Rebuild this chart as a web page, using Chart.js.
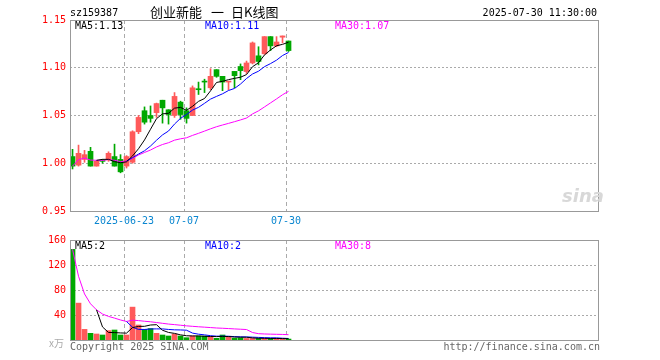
<!DOCTYPE html>
<html>
<head>
<meta charset="utf-8">
<script src="https://cdn.jsdelivr.net/npm/chart.js@4.4.1/dist/chart.umd.min.js"></script>
<style>
  body { margin: 0; background: #fff; width: 660px; height: 360px; position: relative; overflow: hidden;
         font-family: "DejaVu Sans Mono", monospace; font-size: 10px; }
  canvas { position: absolute; left: 0; }
  .t { position: absolute; white-space: pre; line-height: 12px; }
  .cj { font: 13px "Noto Sans CJK SC"; line-height: 14px; }
</style>
</head>
<body>
<canvas id="kline" width="660" height="236" style="top:0"></canvas>
<canvas id="vol" width="660" height="130" style="top:230px"></canvas>

<div class="t" style="left:70px;top:7px">sz159387</div>
<div class="t cj" style="left:150px;top:5px">创业新能<span style="margin-left:9px">一</span><span style="margin-left:7px">日K线图</span></div>
<div class="t" style="right:63px;top:7px">2025-07-30 11:30:00</div>
<div class="t" style="left:75px;top:20px">MA5:1.13</div>
<div class="t" style="left:205px;top:20px;color:#0000ff">MA10:1.11</div>
<div class="t" style="left:335px;top:20px;color:#ff00ff">MA30:1.07</div>
<div class="t" style="left:75px;top:240px">MA5:2</div>
<div class="t" style="left:205px;top:240px;color:#0000ff">MA10:2</div>
<div class="t" style="left:335px;top:240px;color:#ff00ff">MA30:8</div>
<div class="t" style="left:49px;top:337px;color:#aaa;font-family:'Noto Sans CJK SC'">x万</div>
<div class="t" style="left:70px;top:341px;color:#666">Copyright 2025 SINA.COM</div>
<div class="t" style="right:60px;top:341px;color:#666">http://finance.sina.com.cn</div>
<div class="t" style="left:562px;top:186px;color:#d8d8d8;font:italic bold 18px 'DejaVu Sans';line-height:20px">sina</div>

<script>
// 交易日 (2025-06-10 .. 2025-07-30)
const dates = ['06-10','06-11','06-12','06-13','06-16','06-17','06-18','06-19','06-20','06-23',
  '06-24','06-25','06-26','06-27','06-30','07-01','07-02','07-03','07-04','07-07',
  '07-08','07-09','07-10','07-11','07-14','07-15','07-16','07-17','07-18','07-21',
  '07-22','07-23','07-24','07-25','07-28','07-29','07-30'];

const opens  = [1.007,0.998,1.004,1.0125,0.997,1.003,1.0035,1.007,1.004,0.997,
  1.001,1.033,1.055,1.050,1.053,1.066,1.056,1.050,1.064,1.055,
  1.050,1.078,1.0855,1.079,1.098,1.091,1.085,1.0962,1.1013,1.096,
  1.105,1.1125,1.1146,1.1326,1.1229,1.132,1.128];
const closes = [0.997,1.0104,1.009,0.997,1.002,1.002,1.0104,0.997,0.991,1.007,
  1.033,1.048,1.043,1.047,1.0625,1.058,1.051,1.070,1.051,1.047,
  1.079,1.077,1.085,1.091,1.091,1.085,1.0857,1.0917,1.097,1.105,
  1.126,1.1066,1.1326,1.1229,1.127,1.1333,1.118];
const highs  = [1.0146,1.019,1.0135,1.0167,1.003,1.004,1.012,1.02,1.009,1.008,
  1.034,1.050,1.059,1.060,1.063,1.066,1.056,1.074,1.065,1.058,
  1.081,1.085,1.088,1.099,1.098,1.091,1.0857,1.0962,1.104,1.107,
  1.127,1.122,1.1326,1.1326,1.1326,1.1333,1.128];
const lows   = [0.994,0.997,1.001,0.997,0.997,1.000,1.002,0.997,0.990,0.995,
  1.000,1.031,1.041,1.043,1.048,1.042,1.041,1.048,1.046,1.042,
  1.050,1.072,1.074,1.077,1.090,1.076,1.077,1.079,1.0875,1.094,
  1.104,1.103,1.114,1.118,1.122,1.126,1.117];
// 成交量 (万)
const volumes = [145,59,17,10.7,9.6,8,15,16,8,8,
  52.6,24,17,18.3,10.7,8,6.4,9.6,6.4,3.7,
  6.4,6.4,6.4,5.3,2.7,8,5.3,3,3.5,2.5,
  2.5,2.5,2.5,2.5,2.5,1.5,1.5];

const priceTicks = [0.95, 1.00, 1.05, 1.10, 1.15];
const volTicks = [40, 80, 120, 160];
const tickIdx = [9, 19, 36];
const tickText = ['2025-06-23', '07-07', '07-30'];

const RED = '#ff5a5a', GREEN = '#00a800';
const SLOTS = 88, OFF = 0.42;

// moving average; MA30 uses what it has before 30 days exist
function ma(arr, n, partial) {
  const out = [];
  for (let i = 0; i < arr.length; i++) {
    if (i < n - 1 && !partial) continue;
    const s = arr.slice(Math.max(0, i - n + 1), i + 1);
    out.push({ x: i, y: s.reduce((a, b) => a + b, 0) / s.length });
  }
  return out;
}

const colors = opens.map((o, i) => closes[i] >= o ? RED : GREEN);

const boxPlugin = {
  id: 'box',
  afterDraw(chart) {
    const a = chart.chartArea, c = chart.ctx;
    c.save();
    c.strokeStyle = '#999';
    c.lineWidth = 1;
    c.strokeRect(Math.round(a.left) + 0.5, Math.round(a.top) + 0.5, Math.round(a.right - a.left), Math.round(a.bottom - a.top));
    c.restore();
  }
};

function xScale(showLabels) {
  return {
    type: 'linear', min: -OFF, max: SLOTS - OFF, offset: false,
    afterBuildTicks: ax => { ax.ticks = tickIdx.map(i => ({ value: i - OFF })); },
    afterFit: ax => { ax.height = showLabels ? 25 : 20; },
    grid: { color: '#aaa', drawTicks: false, offset: false },
    border: { display: false, dash: [4, 3] },
    ticks: {
      display: showLabels, autoSkip: false, maxRotation: 0, padding: 4,
      color: '#0a86d0', font: { family: 'DejaVu Sans Mono', size: 10 },
      callback: v => tickText[tickIdx.indexOf(Math.round(v + OFF))]
    }
  };
}

function lineDs(data, color) {
  return { type: 'line', data, borderColor: color, borderWidth: 1, pointRadius: 0, tension: 0, order: 0 };
}

new Chart(document.getElementById('kline'), {
  type: 'bar',
  data: {
    datasets: [
      lineDs(ma(closes, 5), '#000000'),
      lineDs(ma(closes, 10), '#0000ff'),
      lineDs(ma(closes, 30, true), '#ff00ff'),
      { data: opens.map((o, i) => ({ x: i, y: [o, closes[i]] })), backgroundColor: colors,
        barThickness: 5, minBarLength: 1, grouped: false, order: 1 },
      { data: lows.map((l, i) => ({ x: i, y: [l, highs[i]] })), backgroundColor: colors,
        barThickness: 1, grouped: false, order: 2 }
    ]
  },
  options: {
    responsive: false, animation: false,
    layout: { padding: { top: 20, right: 62, left: 0, bottom: 0 } },
    plugins: { legend: { display: false }, tooltip: { enabled: false } },
    scales: {
      x: xScale(true),
      y: {
        min: 0.95, max: 1.15,
        afterBuildTicks: ax => { ax.ticks = priceTicks.map(v => ({ value: v })); },
        afterFit: ax => { ax.width = 70; },
        grid: { color: '#aaa', drawTicks: false },
        border: { display: false, dash: [2, 2] },
        ticks: { color: '#ff0000', padding: 4, font: { family: 'DejaVu Sans Mono', size: 10 },
                 callback: v => v.toFixed(2) }
      }
    }
  },
  plugins: [boxPlugin]
});

new Chart(document.getElementById('vol'), {
  type: 'bar',
  data: {
    datasets: [
      lineDs(ma(volumes, 5), '#000000'),
      lineDs(ma(volumes, 10), '#0000ff'),
      lineDs(ma(volumes, 30, true), '#ff00ff'),
      { data: volumes.map((v, i) => ({ x: i, y: v })), backgroundColor: colors,
        barThickness: 5, grouped: false, order: 1 }
    ]
  },
  options: {
    responsive: false, animation: false,
    layout: { padding: { top: 10, right: 62, left: 0, bottom: 0 } },
    plugins: { legend: { display: false }, tooltip: { enabled: false } },
    scales: {
      x: xScale(false),
      y: {
        min: 0, max: 160,
        afterBuildTicks: ax => { ax.ticks = volTicks.map(v => ({ value: v })); },
        afterFit: ax => { ax.width = 70; },
        grid: { color: '#aaa', drawTicks: false },
        border: { display: false, dash: [2, 2] },
        ticks: { color: '#ff0000', padding: 4, font: { family: 'DejaVu Sans Mono', size: 10 } }
      }
    }
  },
  plugins: [boxPlugin]
});
</script>
</body>
</html>
